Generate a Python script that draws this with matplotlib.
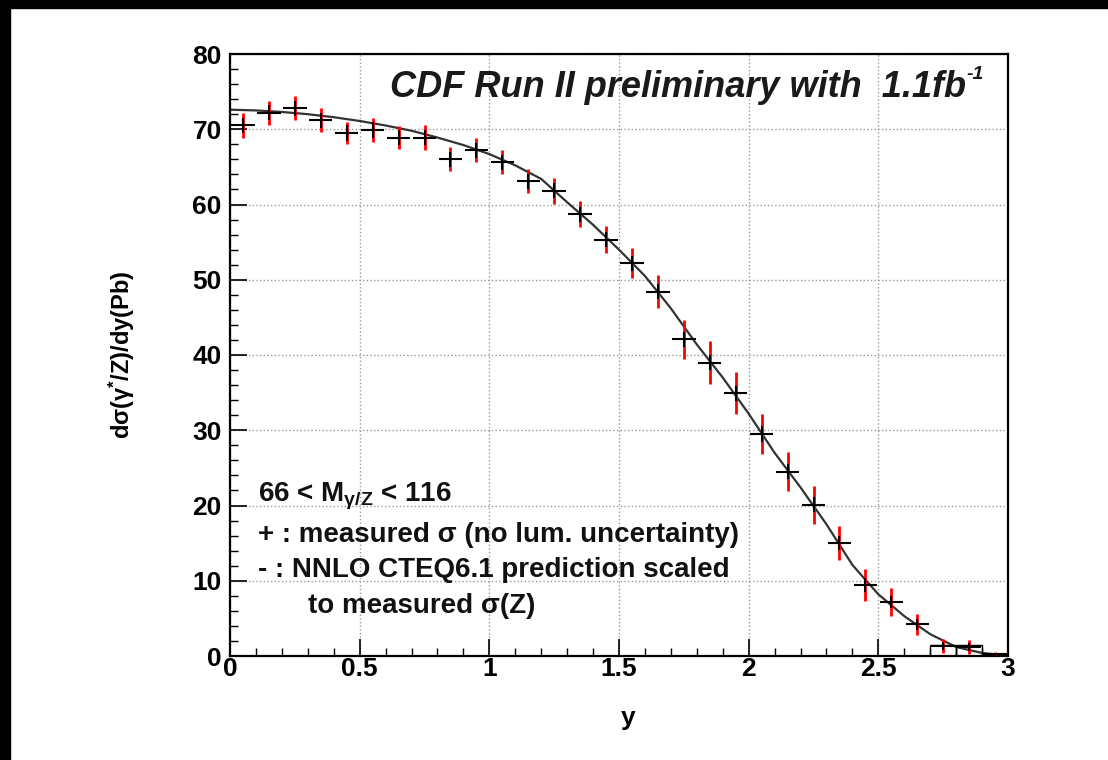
import matplotlib

matplotlib.use("Agg")
import matplotlib.pyplot as plt
from matplotlib.patches import Rectangle
from matplotlib.ticker import MultipleLocator

# measured points (bin centres, dsigma/dy in pb)
y_centres = [0.05, 0.15, 0.25, 0.35, 0.45, 0.55, 0.65, 0.75, 0.85, 0.95,
             1.05, 1.15, 1.25, 1.35, 1.45, 1.55, 1.65, 1.75, 1.85, 1.95,
             2.05, 2.15, 2.25, 2.35, 2.45, 2.55, 2.65, 2.75, 2.85, 2.95]
xsec = [70.5, 72.2, 72.8, 71.2, 69.5, 69.9, 68.9, 68.9, 66.0, 67.2,
        65.6, 63.1, 61.8, 58.7, 55.3, 52.2, 48.4, 42.1, 39.0, 34.9,
        29.5, 24.5, 20.1, 15.0, 9.4, 7.2, 4.2, 1.3, 1.2, 0.2]
err_tot = [1.7, 1.6, 1.6, 1.6, 1.5, 1.6, 1.5, 1.7, 1.6, 1.6,
           1.6, 1.6, 1.7, 1.7, 1.8, 2.0, 2.2, 2.6, 2.8, 2.8,
           2.6, 2.6, 2.5, 2.3, 2.1, 1.9, 1.4, 0.9, 0.9, 0.3]
err_stat = [1.0, 1.0, 1.0, 1.0, 1.0, 1.0, 1.0, 1.0, 1.0, 1.0,
            1.0, 1.0, 1.0, 1.0, 1.0, 1.0, 1.0, 1.0, 1.0, 1.0,
            1.0, 1.0, 1.0, 0.9, 0.9, 0.8, 0.7, 0.5, 0.5, 0.2]

# NNLO CTEQ6.1 prediction (scaled)
theory_y = [0.0, 0.1, 0.2, 0.3, 0.4, 0.5, 0.6, 0.7, 0.8, 0.9,
            1.0, 1.1, 1.2, 1.3, 1.4, 1.5, 1.6, 1.7, 1.8, 1.9,
            2.0, 2.1, 2.2, 2.3, 2.4, 2.5, 2.6, 2.7, 2.8, 2.9, 3.0]
theory = [72.6, 72.5, 72.3, 72.0, 71.6, 71.1, 70.5, 69.8, 68.9, 67.9,
          66.7, 65.2, 63.4, 60.3, 57.3, 54.0, 50.5, 46.2, 41.4, 37.0,
          32.2, 27.0, 22.4, 17.5, 12.1, 8.2, 5.3, 2.9, 1.2, 0.4, 0.05]

# small boxes in the last bins
box_x = [2.75, 2.85]
box_h = [1.5, 1.5]

x_ticks = [0, 0.5, 1, 1.5, 2, 2.5, 3]
x_ticklabels = ["0", "0.5", "1", "1.5", "2", "2.5", "3"]
y_ticks = [0, 10, 20, 30, 40, 50, 60, 70, 80]

plt.rcParams["font.family"] = ["Liberation Sans", "DejaVu Sans"]
plt.rcParams["font.weight"] = "bold"
plt.rcParams["mathtext.fontset"] = "custom"
plt.rcParams["mathtext.rm"] = "Liberation Sans:bold"
plt.rcParams["mathtext.it"] = "Liberation Sans:bold"
plt.rcParams["mathtext.bf"] = "Liberation Sans:bold"

fig = plt.figure(figsize=(11.08, 7.6), dpi=100)
fig.patches.append(Rectangle((0, 0), 10 / 1108, 1, transform=fig.transFigure,
                             color="black", zorder=-1))
fig.patches.append(Rectangle((0, 1 - 8 / 760), 1, 8 / 760, transform=fig.transFigure,
                             color="black", zorder=-1))
ax = fig.add_axes([230 / 1108, 1 - 656 / 760, 778 / 1108, 602 / 760])

ax.plot(theory_y, theory, color="#333333", lw=1.6, zorder=2)
ax.bar(box_x, box_h, width=0.1, fill=False, edgecolor="black", lw=1.0, zorder=2)
ax.errorbar(y_centres, xsec, yerr=err_tot, fmt="none", ecolor="red",
            elinewidth=2.0, capsize=0, zorder=3)
ax.errorbar(y_centres, xsec, xerr=0.045, yerr=err_stat, fmt="none",
            ecolor="black", elinewidth=1.5, capsize=0, zorder=4)

ax.set_xlim(0, 3)
ax.set_ylim(0, 80)
ax.set_xticks(x_ticks)
ax.set_xticklabels(x_ticklabels)
ax.set_yticks(y_ticks)
ax.xaxis.set_minor_locator(MultipleLocator(0.1))
ax.yaxis.set_minor_locator(MultipleLocator(2))
ax.tick_params(which="major", direction="in", length=12, width=1.2,
               labelsize=19)
ax.tick_params(which="minor", direction="in", length=6, width=1.0)
ax.tick_params(axis="x", which="major", pad=1)
ax.tick_params(axis="y", which="major", pad=6)
for lab in ax.get_xticklabels() + ax.get_yticklabels():
    lab.set_fontweight("bold")
ax.grid(True, which="major", ls=":", color="#999999", lw=1.0)
for s in ax.spines.values():
    s.set_linewidth(1.6)

fig.text(122 / 1108, 1 - 355 / 760, "dσ(γ$^{*}$/Z)/dy(Pb)", rotation=90,
         ha="center", va="center", fontsize=17, fontweight="bold")
fig.text(628 / 1108, 1 - 718 / 760, "y", ha="center", va="center",
         fontsize=19, fontweight="bold")

title = ax.text(0.2057, 0.945, "CDF Run II preliminary with  1.1fb",
                transform=ax.transAxes, ha="left", va="center", fontsize=26,
                fontweight="bold", fontstyle="italic", color="#1a1a1a")
ax.annotate("-1", xy=(1.0, 0.85), xycoords=title, xytext=(0.5, 0),
            textcoords="offset points", ha="left", va="center", fontsize=14,
            fontweight="bold", fontstyle="italic", color="#1a1a1a")

leg_kw = dict(transform=ax.transAxes, ha="left", va="center", fontsize=20,
              fontweight="bold", color="#111111")
ax.text(0.036, 0.265, r"66 < M$_{\gamma/Z}$ < 116", **leg_kw)
ax.text(0.036, 0.201, "+ : measured σ (no lum. uncertainty)", **leg_kw)
ax.text(0.036, 0.143, "- : NNLO CTEQ6.1 prediction scaled", **leg_kw)
ax.text(0.100, 0.083, "to measured σ(Z)", **leg_kw)

fig.savefig("out.png", dpi=100)
